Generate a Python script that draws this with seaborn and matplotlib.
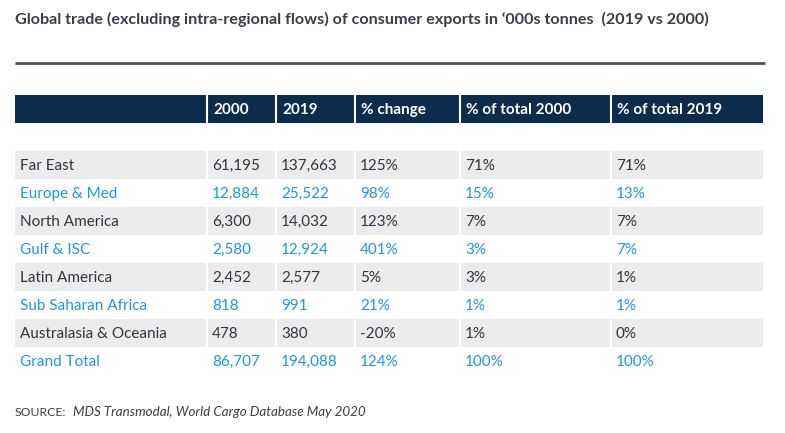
import seaborn as sns
from matplotlib import pyplot as plt
from matplotlib.patches import Rectangle

# table content
columns = ['', '2000', '2019', '% change', '% of total 2000', '% of total 2019']
regions = ['Far East', 'Europe & Med', 'North America', 'Gulf & ISC',
           'Latin America', 'Sub Saharan Africa', 'Australasia & Oceania',
           'Grand Total']
tonnes_2000 = ['61,195', '12,884', '6,300', '2,580', '2,452', '818', '478', '86,707']
tonnes_2019 = ['137,663', '25,522', '14,032', '12,924', '2,577', '991', '380', '194,088']
pct_change = ['125%', '98%', '123%', '401%', '5%', '21%', '-20%', '124%']
share_2000 = ['71%', '15%', '7%', '3%', '3%', '1%', '1%', '100%']
share_2019 = ['71%', '13%', '7%', '7%', '1%', '1%', '0%', '100%']

title = "Global trade (excluding intra-regional flows) of consumer exports in \u2018000s tonnes  (2019 vs 2000)"

NAVY = '#0c2c4d'
GREY = '#ececec'
DARK = '#2f3542'
BLUE = '#1e98d8'

sns.set_theme(style='white')
plt.rcParams['font.family'] = ['Lato', 'DejaVu Sans']

fig = plt.figure(figsize=(7.85, 4.33), dpi=100)
ax = fig.add_axes([0, 0, 1, 1])
ax.set_xlim(0, 785)
ax.set_ylim(433, 0)
ax.axis('off')

# column edges (pixels)
col_x = [15, 207, 276, 355, 460, 611, 763]
head_top, head_h = 95, 28
body_top, row_h = 151, 28

ax.text(15, 19, title, fontsize=11.6, fontweight='bold', color='#3b3e48',
        va='center', ha='left')
ax.plot([15, 765], [63, 63], color='#4d505b', lw=2, solid_capstyle='butt')

# header
ax.add_patch(Rectangle((col_x[0], head_top), col_x[-1] - col_x[0], head_h,
                       color=NAVY, lw=0))
for i, name in enumerate(columns):
    ax.text(col_x[i] + 6, head_top + head_h / 2 + 1, name, fontsize=11,
            fontweight='bold', color='white', va='center', ha='left')
for x in col_x[1:-1]:
    ax.plot([x, x], [head_top, head_top + head_h], color='white', lw=1.5)

# body
table = list(zip(regions, tonnes_2000, tonnes_2019, pct_change, share_2000, share_2019))
for r, row in enumerate(table):
    y0 = body_top + r * row_h
    shaded = r % 2 == 0
    if shaded:
        ax.add_patch(Rectangle((col_x[0], y0), col_x[-1] - col_x[0], row_h,
                               color=GREY, lw=0))
        for x in col_x[1:-1]:
            ax.plot([x, x], [y0, y0 + row_h], color='white', lw=1.5)
    color = DARK if shaded else BLUE
    for i, val in enumerate(row):
        ax.text(col_x[i] + 5, y0 + row_h / 2 + 1, val, fontsize=11,
                color=color, va='center', ha='left')

ax.text(15, 412, 'SOURCE:', fontsize=8.8, color='#3b3e48', va='center', ha='left')
ax.text(73, 412, 'MDS Transmodal, World Cargo Database May 2020', fontsize=9.6,
        style='italic', color='#3b3e48', va='center', ha='left')

fig.savefig('out.png', dpi=100, facecolor='white')
